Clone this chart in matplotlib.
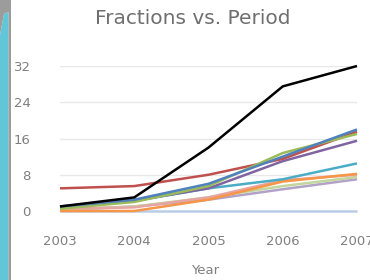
import matplotlib
matplotlib.use("Agg")
import matplotlib.pyplot as plt
from matplotlib.patches import Polygon

years = [2003, 2004, 2005, 2006, 2007]
yticks = [0, 8, 16, 24, 32]

# series values
s_lightblue = [0, 0, 0, 0, 0]
s_lavender = [0.2, 1.0, 2.5, 4.8, 7.0]
s_lightgreen = [0.3, 1.0, 3.0, 5.5, 7.5]
s_pink = [0.5, 0.8, 3.0, 6.8, 8.0]
s_orange = [0.0, 0.0, 2.5, 6.5, 8.2]
s_teal = [1.0, 2.2, 5.0, 7.0, 10.5]
s_purple = [0.8, 2.3, 5.0, 11.0, 15.5]
s_green = [0.5, 2.0, 5.5, 12.8, 17.0]
s_red = [5.0, 5.5, 8.0, 11.5, 17.5]
s_blue = [1.0, 2.5, 6.0, 12.0, 18.0]
s_black = [1.0, 3.0, 14.0, 27.5, 32.0]

series = [
    (s_lightblue, "#b9cde5"),
    (s_lavender, "#b3a2c7"),
    (s_lightgreen, "#c3d69b"),
    (s_pink, "#e6a5a3"),
    (s_orange, "#f79646"),
    (s_teal, "#4bacc6"),
    (s_purple, "#8064a2"),
    (s_red, "#c0504d"),
    (s_green, "#9bbb59"),
    (s_blue, "#4f81bd"),
    (s_black, "#000000"),
]

fig = plt.figure(figsize=(3.7, 2.8), dpi=100)
fig.patch.set_facecolor("white")

# decoration at the left edge
W, H = 370.0, 280.0
cyan = Polygon([(0, 1 - 35 / H), (4 / W, 1 - 14 / H), (8.5 / W, 1 - 12 / H),
                (8.5 / W, 0), (0, 0)], closed=True, transform=fig.transFigure,
               facecolor="#62c6d9", edgecolor="none", zorder=-2)
grey = Polygon([(0, 1), (11 / W, 1), (11 / W, 0), (8.5 / W, 0),
                (8.5 / W, 1 - 12 / H), (4 / W, 1 - 14 / H), (0, 1 - 35 / H)],
               closed=True, transform=fig.transFigure,
               facecolor="#9c9c9c", edgecolor="none", zorder=-2)
fig.patches.extend([cyan, grey])

ax = fig.add_axes([60 / W, 69 / H, 297 / W, 145 / H])
for vals, col in series:
    ax.plot(years, vals, color=col, lw=1.8, clip_on=False, solid_capstyle="butt")

ax.set_xlim(2003, 2007)
ax.set_ylim(0, 32)
ax.set_xticks(years)
ax.set_yticks(yticks)
ax.yaxis.grid(True, color="#e8e8e8", lw=1)
ax.set_axisbelow(True)
for sp in ax.spines.values():
    sp.set_visible(False)
ax.tick_params(length=0, colors="#7f7f7f", labelsize=9.5)
ax.tick_params(axis="y", pad=21)
ax.tick_params(axis="x", pad=17)

fig.text(193 / W, 1 - 18 / H, "Fractions vs. Period", ha="center", va="center",
         fontsize=14.5, color="#6f6f6f")
fig.text(205 / W, 1 - 270 / H, "Year", ha="center", va="center",
         fontsize=9.5, color="#7f7f7f")

fig.savefig("out.png", dpi=100)
